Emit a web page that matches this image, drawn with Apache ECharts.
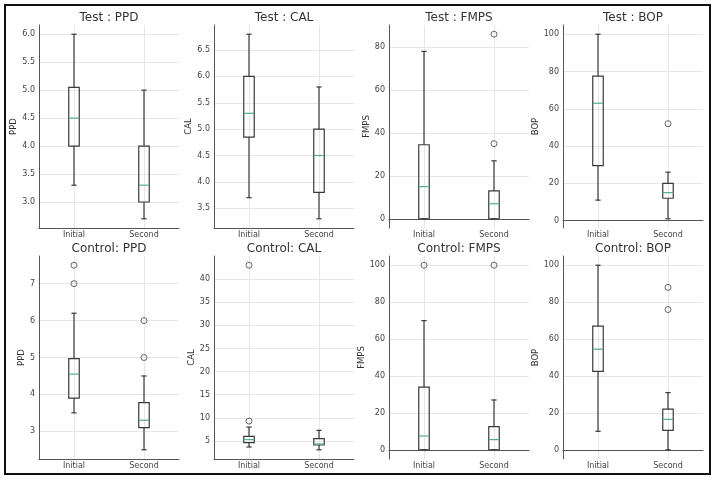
<!DOCTYPE html>
<html>
<head>
<meta charset="utf-8">
<script src="https://cdn.jsdelivr.net/npm/echarts@6/dist/echarts.min.js"></script>
<style>
  html, body { margin: 0; padding: 0; background: #fff; }
  #main { width: 718px; height: 481px; }
</style>
</head>
<body>
<div id="main"></div>
<script>
// groups on the x axis
var groups = ['Initial', 'Second'];

// box stats per group: [min, Q1, median, Q3, max]
var testPPD = [[3.3, 4.0, 4.5, 5.05, 6.0], [2.7, 3.0, 3.3, 4.0, 5.0]];
var testCAL = [[3.7, 4.85, 5.3, 6.0, 6.8], [3.3, 3.8, 4.5, 5.0, 5.8]];
var testFMPS = [[0, 0, 15, 34.5, 78], [0, 0, 7, 13, 27]];
var testBOP = [[11, 29.5, 63, 77.5, 100], [1, 12, 15, 20, 26]];
var controlPPD = [[3.5, 3.9, 4.55, 4.97, 6.2], [2.5, 3.1, 3.3, 3.78, 4.5]];
var controlCAL = [[3.7, 4.63, 5.3, 6.0, 8.0], [3.1, 4.13, 4.35, 5.5, 7.3]];
var controlFMPS = [[0, 0, 7.5, 34, 70], [0, 0, 5.5, 12.5, 27]];
var controlBOP = [[10, 42.5, 54.5, 67, 100], [0, 10.5, 16.5, 22, 31]];

// outliers: [group number (1/2), value]
var testPPDOut = [];
var testCALOut = [];
var testFMPSOut = [[2, 86], [2, 35]];
var testBOPOut = [[2, 52]];
var controlPPDOut = [[1, 7.5], [1, 7.0], [2, 6.0], [2, 5.0]];
var controlCALOut = [[1, 43], [1, 9.3]];
var controlFMPSOut = [[1, 100], [2, 100]];
var controlBOPOut = [[2, 88], [2, 76]];

// panel setup
var panels = [
    {title: 'Test : PPD', name: 'PPD', box: testPPD, out: testPPDOut, step: 0.5, dec: 1, gap: 18},
    {title: 'Test : CAL', name: 'CAL', box: testCAL, out: testCALOut, step: 0.5, dec: 1, gap: 17},
    {title: 'Test : FMPS', name: 'FMPS', box: testFMPS, out: testFMPSOut, step: 20, dec: 0, gap: 15},
    {title: 'Test : BOP', name: 'BOP', box: testBOP, out: testBOPOut, step: 20, dec: 0, gap: 19},
    {title: 'Control: PPD', name: 'PPD', box: controlPPD, out: controlPPDOut, step: 1, dec: 0, gap: 10},
    {title: 'Control: CAL', name: 'CAL', box: controlCAL, out: controlCALOut, step: 5, dec: 0, gap: 15},
    {title: 'Control: FMPS', name: 'FMPS', box: controlFMPS, out: controlFMPSOut, step: 20, dec: 0, gap: 19},
    {title: 'Control: BOP', name: 'BOP', box: controlBOP, out: controlBOPOut, step: 20, dec: 0, gap: 19}
];

var lefts = [39, 214, 389, 563];
var tops = [25, 256];
var plotW = 140, plotH = 203;
var font = 'DejaVu Sans';

function renderBox(params, api) {
    var x = api.value(0);
    var lo = api.coord([x, api.value(1)]);
    var q1 = api.coord([x, api.value(2)]);
    var md = api.coord([x, api.value(3)]);
    var q3 = api.coord([x, api.value(4)]);
    var hi = api.coord([x, api.value(5)]);
    var w = api.size([0.15, 0])[0];
    var cx = lo[0];
    var st = {stroke: '#3a3a3a', lineWidth: 1.2, fill: null};
    return {
        type: 'group',
        children: [
            {type: 'line', shape: {x1: cx, y1: lo[1], x2: cx, y2: q1[1]}, style: st},
            {type: 'line', shape: {x1: cx, y1: q3[1], x2: cx, y2: hi[1]}, style: st},
            {type: 'line', shape: {x1: cx - w / 4, y1: lo[1], x2: cx + w / 4, y2: lo[1]}, style: st},
            {type: 'line', shape: {x1: cx - w / 4, y1: hi[1], x2: cx + w / 4, y2: hi[1]}, style: st},
            {type: 'rect', shape: {x: cx - w / 2, y: q3[1], width: w, height: q1[1] - q3[1]}, style: st},
            {type: 'line', shape: {x1: cx - w / 2, y1: md[1], x2: cx + w / 2, y2: md[1]},
                style: {stroke: '#4fae8e', lineWidth: 1.2}}
        ]
    };
}

var titles = [], grids = [], xAxes = [], yAxes = [], series = [];

panels.forEach(function (p, i) {
    var left = lefts[i % 4], top = tops[Math.floor(i / 4)];
    // value range with 5% padding like the source plot
    var vals = [];
    p.box.forEach(function (b) { vals = vals.concat(b); });
    p.out.forEach(function (o) { vals.push(o[1]); });
    var lo = Math.min.apply(null, vals), hi = Math.max.apply(null, vals);
    var pad = (hi - lo) * 0.05;

    titles.push({
        text: p.title,
        left: left + plotW / 2,
        top: top - 13,
        textAlign: 'center',
        padding: 0,
        textStyle: {fontFamily: font, fontSize: 12, fontWeight: 'normal', color: '#333'}
    });
    grids.push({left: left, top: top, width: plotW, height: plotH});
    xAxes.push({
        type: 'value',
        gridIndex: i,
        min: 0.5,
        max: 2.5,
        minInterval: 1,
        maxInterval: 1,
        axisLine: {show: true, lineStyle: {color: '#555', width: 1}},
        axisTick: {show: false},
        axisLabel: {
            showMinLabel: false,
            showMaxLabel: false,
            margin: 3,
            fontFamily: font,
            fontSize: 8,
            color: '#444',
            formatter: function (v) { return groups[v - 1] || ''; }
        },
        splitLine: {show: true, showMinLine: false, showMaxLine: false, lineStyle: {color: '#e6e6e6', width: 1}}
    });
    yAxes.push({
        type: 'value',
        gridIndex: i,
        min: lo - pad,
        max: hi + pad,
        minInterval: p.step,
        maxInterval: p.step,
        name: p.name,
        nameLocation: 'middle',
        nameGap: p.gap,
        nameTextStyle: {fontFamily: font, fontSize: 8.5, color: '#333'},
        axisLine: {show: true, lineStyle: {color: '#555', width: 1}},
        axisTick: {show: false},
        axisLabel: {
            showMinLabel: false,
            showMaxLabel: false,
            margin: 4,
            fontFamily: font,
            fontSize: 8,
            color: '#444',
            formatter: (function (d) { return function (v) { return v.toFixed(d); }; })(p.dec)
        },
        splitLine: {show: true, showMinLine: false, showMaxLine: false, lineStyle: {color: '#e6e6e6', width: 1}}
    });
    series.push({
        type: 'custom',
        xAxisIndex: i,
        yAxisIndex: i,
        renderItem: renderBox,
        encode: {x: 0, y: [1, 2, 3, 4, 5]},
        data: p.box.map(function (b, k) { return [k + 1].concat(b); }),
        silent: true
    });
    series.push({
        type: 'scatter',
        xAxisIndex: i,
        yAxisIndex: i,
        symbol: 'circle',
        symbolSize: 6,
        itemStyle: {color: 'rgba(255,255,255,0)', borderColor: '#444', borderWidth: 1},
        data: p.out,
        silent: true
    });
});

var myChart = echarts.init(document.getElementById('main'));
var option = {
    backgroundColor: '#fff',
    animation: false,
    title: titles,
    grid: grids,
    xAxis: xAxes,
    yAxis: yAxes,
    series: series,
    graphic: [{
        type: 'rect',
        shape: {x: 5, y: 5, width: 705, height: 469},
        style: {fill: null, stroke: '#111', lineWidth: 2},
        silent: true
    }]
};
myChart.setOption(option);
</script>
</body>
</html>
